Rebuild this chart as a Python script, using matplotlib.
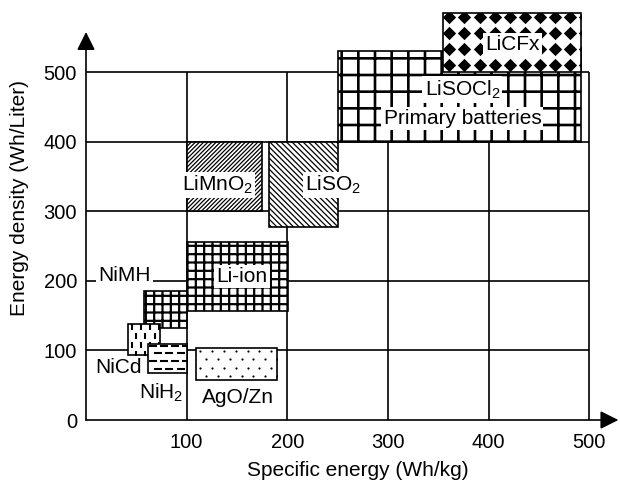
import numpy as np
import matplotlib
matplotlib.use("Agg")
import matplotlib.pyplot as plt
from matplotlib.patches import Rectangle

plt.rcParams['font.family'] = ['Liberation Sans', 'DejaVu Sans']
plt.rcParams['mathtext.fontset'] = 'custom'
plt.rcParams['mathtext.rm'] = 'Liberation Sans'
plt.rcParams['mathtext.it'] = 'Liberation Sans:italic'
plt.rcParams['mathtext.default'] = 'regular'

# battery chemistries: specific energy (Wh/kg) and energy density (Wh/Liter) ranges
chems = ['LiSOCl2', 'LiCFx', 'LiMnO2', 'LiSO2', 'Li-ion', 'NiMH', 'NiCd', 'NiH2', 'AgO/Zn']
wh_kg_lo = [250, 355, 100, 182, 100, 58, 42, 62, 109]
wh_kg_hi = [492, 492, 175, 250, 201, 100, 74, 100, 190]
wh_l_lo = [400, 500, 300, 278, 157, 133, 93, 67, 58]
wh_l_hi = [530, 586, 400, 400, 256, 186, 138, 110, 103]

# text labels drawn on top of the boxes
label_text = ['LiSOCl$_2$', 'Primary batteries', 'LiCFx', 'LiMnO$_2$', 'LiSO$_2$',
              'Li-ion', 'NiMH', 'NiCd', 'NiH$_2$', 'AgO/Zn']
label_x = [374, 374, 424, 131, 245, 155, 38, 32, 75, 151]
label_y = [475, 434, 540, 338, 338, 206, 208, 75, 39, 33]

x_ticks = [100, 200, 300, 400, 500]
y_ticks = [0, 100, 200, 300, 400, 500]
grid_vals = [100, 200, 300, 400, 500]

# fill style per chemistry
hatches = {'LiSOCl2': '+', 'LiCFx': None, 'LiMnO2': '////////', 'LiSO2': '\\\\\\\\\\\\',
           'Li-ion': '++', 'NiMH': '++', 'NiCd': None, 'NiH2': None, 'AgO/Zn': None}
hatch_lw = {'LiSOCl2': 1.9, 'Li-ion': 1.6, 'NiMH': 1.6, 'LiMnO2': 0.9,
            'LiSO2': 0.9}

fig = plt.figure(figsize=(6.2, 4.82), dpi=100)
ax = fig.add_axes([86 / 620, 62 / 482, 533.4 / 620, 417.2 / 482])
ax.set_xlim(0, 530)
ax.set_ylim(0, 600)
for s in ax.spines.values():
    s.set_visible(False)

ax.hlines(grid_vals, 0, 500, color='black', lw=1.2, zorder=1)
ax.vlines(grid_vals, 0, 500, color='black', lw=1.2, zorder=1)

boxes = {}
for i, name in enumerate(chems):
    h = hatches[name]
    if h is not None:
        plt.rcParams['hatch.linewidth'] = hatch_lw[name]
    r = Rectangle((wh_kg_lo[i], wh_l_lo[i]), wh_kg_hi[i] - wh_kg_lo[i],
                  wh_l_hi[i] - wh_l_lo[i], facecolor='white', edgecolor='black',
                  hatch=h, lw=1.2, zorder=2 + i)
    if h is not None and hasattr(r, 'set_hatch_linewidth'):
        r.set_hatch_linewidth(hatch_lw[name])
    ax.add_patch(r)
    boxes[name] = (i, r)


def texture(name, dx, dy, stagger, **kw):
    # repeat a marker over a box, clipped to its outline
    i, r = boxes[name]
    xs = np.arange(wh_kg_lo[i] + dx * 0.4, wh_kg_hi[i] + dx, dx)
    ys = np.arange(wh_l_hi[i] - dy * 0.3, wh_l_lo[i] - dy, -dy)
    px, py = [], []
    for k, y in enumerate(ys):
        off = dx * 0.5 if (stagger and k % 2) else 0
        px.extend(xs + off)
        py.extend([y] * len(xs))
    sc = ax.scatter(px, py, color='black', zorder=r.get_zorder() + 0.1, **kw)
    sc.set_clip_path(r)


texture('LiCFx', 15, 23, False, marker='D', s=46, linewidths=0)
texture('NiCd', 9, 13, True, marker='|', s=20, linewidths=1.5)
texture('NiH2', 11, 11, True, marker='_', s=26, linewidths=1.5)
texture('AgO/Zn', 11.7, 12, True, marker='o', s=2.5, linewidths=0)

for t, x, y in zip(label_text, label_x, label_y):
    ax.text(x, y, t, fontsize=15, ha='center', va='center', zorder=20,
            bbox=dict(facecolor='white', edgecolor='none', pad=1.5))

ax.set_xticks(x_ticks)
ax.set_yticks(y_ticks)
ax.tick_params(axis='both', length=0, labelsize=14.5)
ax.tick_params(axis='x', pad=9)
ax.tick_params(axis='y', pad=6.5)

arrow = dict(arrowstyle='-|>,head_length=1.1,head_width=0.55', color='black',
             lw=1.2, shrinkA=0, shrinkB=0, mutation_scale=10)
ax.annotate('', xy=(529, 0), xytext=(0, 0), arrowprops=arrow,
            annotation_clip=False, zorder=30)
ax.annotate('', xy=(0, 558), xytext=(0, 0), arrowprops=arrow,
            annotation_clip=False, zorder=30)

ax.text(0.509, -0.12, 'Specific energy (Wh/kg)', transform=ax.transAxes,
        fontsize=15, ha='center', va='center')
ax.text(-0.124, 0.532, 'Energy density (Wh/Liter)', transform=ax.transAxes,
        fontsize=15, ha='center', va='center', rotation=90)

fig.savefig('out.png', dpi=100)
